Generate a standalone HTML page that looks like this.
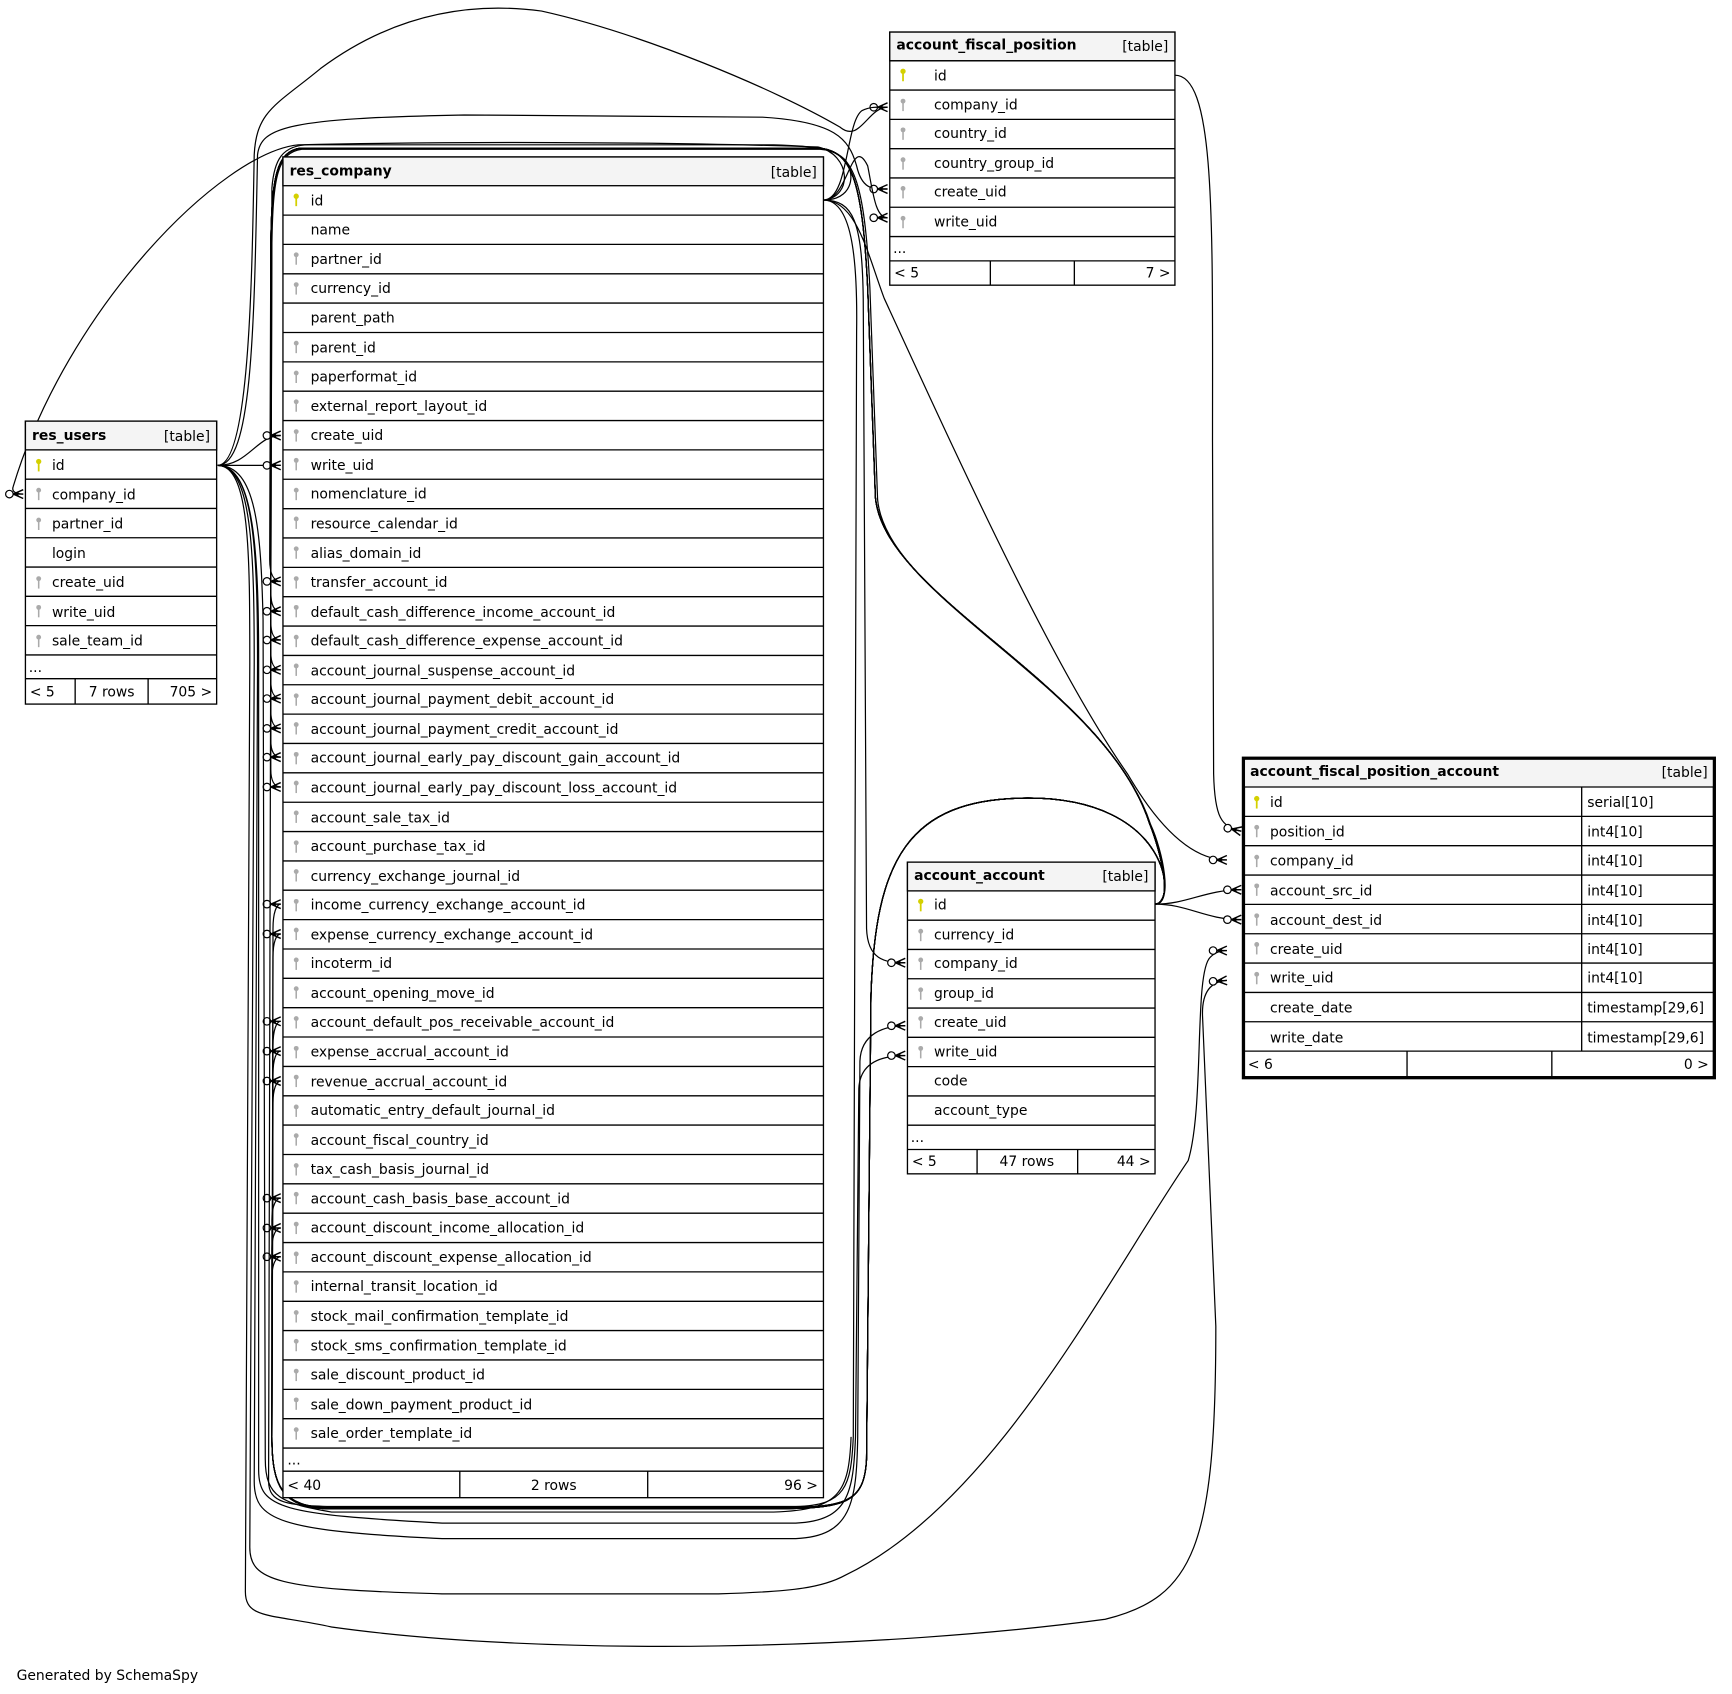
<!DOCTYPE html>
<html><head><meta charset="utf-8"><style>
html,body{margin:0;padding:0;background:#fff;}
svg{display:block;}
text{font-family:"DejaVu Sans","Liberation Sans",sans-serif;font-size:12.6px;fill:#000;}
.b{font-weight:bold;}
.e{fill:none;stroke:#000;stroke-width:1.1;}
.t{fill:#fff;stroke:#000;stroke-width:1.2;}
.h{fill:#f4f4f4;stroke:#000;stroke-width:1.2;}
.s{stroke:#000;stroke-width:1.2;fill:none;}
</style></head><body>
<svg width="1732" height="1694" viewBox="0 0 1567 1532.6" xmlns="http://www.w3.org/2000/svg">
<defs>
<marker id="m" markerUnits="userSpaceOnUse" markerWidth="30" markerHeight="20" refX="0" refY="0" orient="auto" overflow="visible" viewBox="-20 -10 30 20">
<path d="M-9,0 L0,-4 M-9,0 L0,0 M-9,0 L0,4" stroke="#000" stroke-width="1.3" fill="none"/>
<path d="M-9,0 L-3,-3 L-5,0 L-3,3 Z" fill="#000"/>
<circle cx="-12.5" cy="0" r="3.4" fill="#fff" stroke="#000" stroke-width="1.1"/>
</marker>
<g id="kg"><circle cx="0" cy="-3.5" r="2.2" fill="#aaa"/><rect x="-0.7" y="-3" width="1.4" height="8.5" fill="#aaa"/></g>
<g id="ky"><circle cx="0" cy="-3.5" r="2.4" fill="#d4d000"/><rect x="-0.8" y="-3" width="1.6" height="8.5" fill="#d4d000"/></g>
</defs>

<g class="e">
<path d="M197,421 C226,421 228,250 230,140 C232,100 250,95 290,62 C360,10 430,2 490,10 C580,30 700,80 760,115 C778,130 785,97 803,97" marker-end="url(#m)"/>
<path d="M197,421 C228,421 230,300 233,140 C236,115 260,107 420,104 L690,106 C755,110 768,125 775,150 C780,172 790,171 803,171" marker-end="url(#m)"/>
<path d="M745,181 C768,181 770,120 785,150 C790,175 792,197 803,197" marker-end="url(#m)"/>
<path d="M745,181 C768,181 765,110 780,100 C788,96 795,97 803,97" />
<path d="M745,181 C772,178 770,140 740,133 C600,128 400,128 270,131 C200,138 60,280 12,440 C10,445 15,447 21,447" marker-end="url(#m)"/>
<path d="M197,421 C225,421 232,394 254,394" marker-end="url(#m)"/>
<path d="M197,421 L254,421" marker-end="url(#m)"/>
<path d="M745,181 C772,181 780,200 781,270 L784,840 C785,868 800,871 819,871" marker-end="url(#m)"/>
<path d="M745,181 C775,181 785,230 800,270 C860,400 950,600 1020,700 C1055,760 1085,778 1110,778" marker-end="url(#m)"/>
<path d="M1063,68 C1100,68 1097,200 1097,400 L1098,700 C1099,740 1105,748 1123,752" marker-end="url(#m)"/>
<path d="M1045,818 C1075,818 1090,805 1123,805" marker-end="url(#m)"/>
<path d="M1045,818 C1075,818 1090,832 1123,832" marker-end="url(#m)"/>
<path d="M1045,818 C1062,818 1050,770 1040,745 C1000,620 800,540 792,450 L785,260 C780,160 770,136 740,134 L272,134 C250,137 246,160 245,220 L244,506 C244,520 248,526 254,526" marker-end="url(#m)"/>
<path d="M1045,818 C1062,818 1052,770 1041,746 C1001,622 802,542 794,452 L787,260 C782,162 772,137 742,135 L273,135 C251,138 247,160 246,220 L245,535 C245,548 248,553 254,553" marker-end="url(#m)"/>
<path d="M1045,818 C1062,818 1050,770 1040,745 C1000,620 800,540 792,450 L785,260 C780,160 770,136 740,134 L272,134 C250,137 246,160 245,220 L245,562 C245,574 248,579 254,579" marker-end="url(#m)"/>
<path d="M1045,818 C1062,818 1050,770 1040,745 C1000,620 800,540 792,450 L785,260 C780,160 770,136 740,134 L272,134 C250,137 246,160 245,220 L245,590 C245,600 248,606 254,606" marker-end="url(#m)"/>
<path d="M1045,818 C1062,818 1050,770 1040,745 C1000,620 800,540 792,450 L785,260 C780,160 770,136 740,134 L272,134 C250,137 246,160 245,220 L245,616 C245,626 248,632 254,632" marker-end="url(#m)"/>
<path d="M1045,818 C1062,818 1050,770 1040,745 C1000,620 800,540 792,450 L785,260 C780,160 770,136 740,134 L272,134 C250,137 246,160 245,220 L245,643 C245,653 248,659 254,659" marker-end="url(#m)"/>
<path d="M1045,818 C1062,818 1050,770 1040,745 C1000,620 800,540 792,450 L785,260 C780,160 770,136 740,134 L272,134 C250,137 246,160 245,220 L245,670 C245,680 248,685 254,685" marker-end="url(#m)"/>
<path d="M1045,818 C1062,818 1050,770 1040,745 C1000,620 800,540 792,450 L785,260 C780,160 770,136 740,134 L272,134 C250,137 246,160 245,220 L245,696 C245,706 248,712 254,712" marker-end="url(#m)"/>
<path d="M1045,818 C1065,818 1060,722 930,722 C820,722 792,780 788,900 L784,1320 C782,1360 765,1365 700,1365 L300,1365 C255,1365 246,1345 246,1300 L247,840 C247,826 250,818 254,818" marker-end="url(#m)"/>
<path d="M1045,818 C1065,818 1060,722 930,722 C820,722 792,780 788,900 L784,1320 C782,1360 765,1365 700,1365 L300,1365 C255,1365 246,1345 246,1300 L247,866 C247,852 250,845 254,845" marker-end="url(#m)"/>
<path d="M1045,818 C1065,818 1060,722 930,722 C820,722 792,780 788,900 L784,1320 C782,1360 765,1364 700,1364 L300,1364 C255,1364 246,1345 246,1300 L247,946 C247,932 250,924 254,924" marker-end="url(#m)"/>
<path d="M1045,818 C1065,818 1060,722 930,722 C820,722 792,780 788,900 L784,1320 C782,1360 765,1364 700,1364 L300,1364 C255,1364 246,1345 246,1300 L247,972 C247,958 250,951 254,951" marker-end="url(#m)"/>
<path d="M1045,818 C1065,818 1060,722 930,722 C820,722 792,780 788,900 L784,1320 C782,1360 765,1364 700,1364 L300,1364 C255,1364 246,1345 246,1300 L247,998 C247,985 250,978 254,978" marker-end="url(#m)"/>
<path d="M1045,818 C1065,818 1060,722 930,722 C820,722 792,780 788,900 L784,1320 C782,1360 765,1365 700,1365 L300,1365 C255,1365 246,1345 246,1300 L246,1104 C246,1090 250,1084 254,1084" marker-end="url(#m)"/>
<path d="M1045,818 C1065,818 1060,722 930,722 C820,722 792,780 788,900 L784,1320 C782,1360 765,1365 700,1365 L300,1365 C255,1365 246,1345 246,1300 L246,1130 C246,1117 250,1111 254,1111" marker-end="url(#m)"/>
<path d="M1045,818 C1065,818 1060,722 930,722 C820,722 792,780 788,900 L784,1320 C782,1360 765,1365 700,1365 L300,1365 C255,1365 246,1345 246,1300 L246,1156 C246,1143 250,1137 254,1137" marker-end="url(#m)"/>
<path d="M197,421 C232,421 236,480 238,560 L240,1320 C240,1355 255,1360 300,1368 L700,1368 C760,1366 768,1350 770,1300"/>
<path d="M197,421 C230,421 233,500 233,600 L230,1340 C230,1375 250,1385 400,1392 L720,1392 C770,1390 775,1360 776,1300 L778,960 C779,935 800,928 819,928" marker-end="url(#m)"/>
<path d="M197,421 C230,421 234,500 234,600 L234,1330 C234,1365 255,1370 400,1378 L720,1378 C768,1376 772,1350 774,1300 L777,985 C778,960 800,955 819,955" marker-end="url(#m)"/>
<path d="M197,421 C228,421 230,500 230,600 L226,1400 C226,1430 250,1438 400,1442 L650,1442 C720,1440 745,1436 765,1425 C900,1360 1000,1160 1075,1050 C1090,1000 1080,880 1095,866 C1100,861 1105,860 1110,860" marker-end="url(#m)"/>
<path d="M197,421 C226,421 226,500 226,600 L222,1440 C222,1465 245,1460 300,1472 C500,1500 800,1492 1000,1465 C1080,1445 1100,1400 1100,1200 L1088,920 C1087,898 1095,888 1110,887" marker-end="url(#m)"/>
<path d="M745,181 C770,181 775,160 765,145 C755,135 740,132 700,131 L280,131 C255,131 248,145 246,170 L243,1340 C243,1360 260,1362 300,1363 L720,1363 C765,1362 770,1345 772,1300 L775,300 C776,230 770,181 745,181"/>
</g>

<rect class="t" x="256" y="142" width="489" height="1213"/>
<rect class="h" x="256" y="142" width="489" height="26"/>
<text class="b" x="262" y="159">res_company</text><text x="739" y="160" text-anchor="end">[table]</text>
<path class="s" d="M256,194.6h489M256,221.1h489M256,247.7h489M256,274.2h489M256,300.8h489M256,327.4h489M256,353.9h489M256,380.5h489M256,407h489M256,433.6h489M256,460.2h489M256,486.7h489M256,513.3h489M256,539.8h489M256,566.4h489M256,593h489M256,619.5h489M256,646.1h489M256,672.6h489M256,699.2h489M256,725.8h489M256,752.3h489M256,778.9h489M256,805.4h489M256,832h489M256,858.6h489M256,885.1h489M256,911.7h489M256,938.2h489M256,964.8h489M256,991.4h489M256,1017.9h489M256,1044.5h489M256,1071h489M256,1097.6h489M256,1124.2h489M256,1150.7h489M256,1177.3h489M256,1203.8h489M256,1230.4h489M256,1257h489M256,1283.5h489M256,1310.1h489M256,1331h489M416,1331v24M586,1331v24"/>
<use href="#ky" x="268" y="181"/>
<g>
<use href="#kg" x="268" y="234"/><use href="#kg" x="268" y="261"/><use href="#kg" x="268" y="314"/><use href="#kg" x="268" y="341"/><use href="#kg" x="268" y="367"/><use href="#kg" x="268" y="394"/><use href="#kg" x="268" y="420"/><use href="#kg" x="268" y="447"/><use href="#kg" x="268" y="473"/><use href="#kg" x="268" y="500"/><use href="#kg" x="268" y="527"/><use href="#kg" x="268" y="553"/><use href="#kg" x="268" y="580"/><use href="#kg" x="268" y="606"/><use href="#kg" x="268" y="633"/><use href="#kg" x="268" y="659"/><use href="#kg" x="268" y="686"/><use href="#kg" x="268" y="712"/><use href="#kg" x="268" y="739"/><use href="#kg" x="268" y="766"/><use href="#kg" x="268" y="792"/><use href="#kg" x="268" y="819"/><use href="#kg" x="268" y="845"/><use href="#kg" x="268" y="872"/><use href="#kg" x="268" y="898"/><use href="#kg" x="268" y="925"/><use href="#kg" x="268" y="952"/><use href="#kg" x="268" y="978"/><use href="#kg" x="268" y="1005"/><use href="#kg" x="268" y="1031"/><use href="#kg" x="268" y="1058"/><use href="#kg" x="268" y="1084"/><use href="#kg" x="268" y="1111"/><use href="#kg" x="268" y="1138"/><use href="#kg" x="268" y="1164"/><use href="#kg" x="268" y="1191"/><use href="#kg" x="268" y="1217"/><use href="#kg" x="268" y="1244"/><use href="#kg" x="268" y="1270"/><use href="#kg" x="268" y="1297"/>
</g>
<g>
<text x="281" y="186">id</text>
<text x="281" y="212">name</text>
<text x="281" y="239">partner_id</text>
<text x="281" y="265">currency_id</text>
<text x="281" y="292">parent_path</text>
<text x="281" y="319">parent_id</text>
<text x="281" y="345">paperformat_id</text>
<text x="281" y="372">external_report_layout_id</text>
<text x="281" y="398">create_uid</text>
<text x="281" y="425">write_uid</text>
<text x="281" y="451">nomenclature_id</text>
<text x="281" y="478">resource_calendar_id</text>
<text x="281" y="505">alias_domain_id</text>
<text x="281" y="531">transfer_account_id</text>
<text x="281" y="558">default_cash_difference_income_account_id</text>
<text x="281" y="584">default_cash_difference_expense_account_id</text>
<text x="281" y="611">account_journal_suspense_account_id</text>
<text x="281" y="637">account_journal_payment_debit_account_id</text>
<text x="281" y="664">account_journal_payment_credit_account_id</text>
<text x="281" y="690">account_journal_early_pay_discount_gain_account_id</text>
<text x="281" y="717">account_journal_early_pay_discount_loss_account_id</text>
<text x="281" y="744">account_sale_tax_id</text>
<text x="281" y="770">account_purchase_tax_id</text>
<text x="281" y="797">currency_exchange_journal_id</text>
<text x="281" y="823">income_currency_exchange_account_id</text>
<text x="281" y="850">expense_currency_exchange_account_id</text>
<text x="281" y="876">incoterm_id</text>
<text x="281" y="903">account_opening_move_id</text>
<text x="281" y="929">account_default_pos_receivable_account_id</text>
<text x="281" y="956">expense_accrual_account_id</text>
<text x="281" y="983">revenue_accrual_account_id</text>
<text x="281" y="1009">automatic_entry_default_journal_id</text>
<text x="281" y="1036">account_fiscal_country_id</text>
<text x="281" y="1062">tax_cash_basis_journal_id</text>
<text x="281" y="1089">account_cash_basis_base_account_id</text>
<text x="281" y="1115">account_discount_income_allocation_id</text>
<text x="281" y="1142">account_discount_expense_allocation_id</text>
<text x="281" y="1168">internal_transit_location_id</text>
<text x="281" y="1195">stock_mail_confirmation_template_id</text>
<text x="281" y="1222">stock_sms_confirmation_template_id</text>
<text x="281" y="1248">sale_discount_product_id</text>
<text x="281" y="1275">sale_down_payment_product_id</text>
<text x="281" y="1301">sale_order_template_id</text>
<text x="260" y="1325">...</text>
<text x="260" y="1348">&lt; 40</text>
<text x="501" y="1348" text-anchor="middle">2 rows</text>
<text x="740" y="1348" text-anchor="end">96 &gt;</text>
</g>

<rect class="t" x="23" y="381" width="173" height="256"/>
<rect class="h" x="23" y="381" width="173" height="26"/>
<text class="b" x="29" y="398">res_users</text><text x="190" y="399" text-anchor="end">[table]</text>
<path class="s" d="M23,433.5h173M23,460h173M23,486.5h173M23,513h173M23,539.5h173M23,566h173M23,592.5h173M23,614h173M68,614v23M134,614v23"/>
<use href="#ky" x="35" y="421"/><use href="#kg" x="35" y="447"/><use href="#kg" x="35" y="474"/><use href="#kg" x="35" y="527"/><use href="#kg" x="35" y="553"/><use href="#kg" x="35" y="580"/>
<text x="47" y="425">id</text>
<text x="47" y="452">company_id</text>
<text x="47" y="478">partner_id</text>
<text x="47" y="505">login</text>
<text x="47" y="531">create_uid</text>
<text x="47" y="558">write_uid</text>
<text x="47" y="584">sale_team_id</text>
<text x="26" y="608">...</text>
<text x="27" y="630">&lt; 5</text>
<text x="101" y="630" text-anchor="middle">7 rows</text>
<text x="192" y="630" text-anchor="end">705 &gt;</text>

<rect class="t" x="805" y="29" width="258" height="229"/>
<rect class="h" x="805" y="29" width="258" height="26"/>
<text class="b" x="811" y="45">account_fiscal_position</text><text x="1057" y="46" text-anchor="end">[table]</text>
<path class="s" d="M805,55h258M805,81.5h258M805,108h258M805,134.5h258M805,161h258M805,187.5h258M805,214h258M805,236h258M896,236v22M972,236v22"/>
<use href="#ky" x="817" y="68"/><use href="#kg" x="817" y="95"/><use href="#kg" x="817" y="121"/><use href="#kg" x="817" y="148"/><use href="#kg" x="817" y="174"/><use href="#kg" x="817" y="201"/>
<text x="845" y="73">id</text>
<text x="845" y="99">company_id</text>
<text x="845" y="125">country_id</text>
<text x="845" y="152">country_group_id</text>
<text x="845" y="178">create_uid</text>
<text x="845" y="205">write_uid</text>
<text x="808" y="229">...</text>
<text x="809" y="251">&lt; 5</text>
<text x="1059" y="251" text-anchor="end">7 &gt;</text>

<rect class="t" x="821" y="780" width="224" height="282"/>
<rect class="h" x="821" y="780" width="224" height="26"/>
<text class="b" x="827" y="796">account_account</text><text x="1039" y="797" text-anchor="end">[table]</text>
<path class="s" d="M821,832.5h224M821,859h224M821,885.5h224M821,912h224M821,938.5h224M821,965h224M821,991.5h224M821,1018h224M821,1040h224M884,1040v22M975,1040v22"/>
<use href="#ky" x="833" y="819"/><use href="#kg" x="833" y="846"/><use href="#kg" x="833" y="872"/><use href="#kg" x="833" y="899"/><use href="#kg" x="833" y="925"/><use href="#kg" x="833" y="952"/>
<text x="845" y="823">id</text>
<text x="845" y="850">currency_id</text>
<text x="845" y="876">company_id</text>
<text x="845" y="903">group_id</text>
<text x="845" y="929">create_uid</text>
<text x="845" y="956">write_uid</text>
<text x="845" y="982">code</text>
<text x="845" y="1009">account_type</text>
<text x="824" y="1033">...</text>
<text x="825" y="1055">&lt; 5</text>
<text x="929" y="1055" text-anchor="middle">47 rows</text>
<text x="1041" y="1055" text-anchor="end">44 &gt;</text>

<rect class="t" x="1125" y="686" width="426" height="289" style="stroke-width:3"/>
<rect x="1126.5" y="687.5" width="423" height="24.5" fill="#f4f4f4"/>
<path class="s" d="M1125,712h426"/>
<text class="b" x="1131" y="702">account_fiscal_position_account</text><text x="1545" y="703" text-anchor="end">[table]</text>
<path class="s" d="M1125,738.6h426M1125,765.1h426M1125,791.7h426M1125,818.2h426M1125,844.8h426M1125,871.3h426M1125,897.9h426M1125,924.4h426M1125,951h426M1431,712v239M1273,951v24M1404,951v24"/>
<use href="#ky" x="1137" y="726"/><use href="#kg" x="1137" y="752"/><use href="#kg" x="1137" y="779"/><use href="#kg" x="1137" y="805"/><use href="#kg" x="1137" y="832"/><use href="#kg" x="1137" y="858"/><use href="#kg" x="1137" y="885"/>
<text x="1149" y="730">id</text><text x="1436" y="730">serial[10]</text>
<text x="1149" y="757">position_id</text><text x="1436" y="757">int4[10]</text>
<text x="1149" y="783">company_id</text><text x="1436" y="783">int4[10]</text>
<text x="1149" y="810">account_src_id</text><text x="1436" y="810">int4[10]</text>
<text x="1149" y="837">account_dest_id</text><text x="1436" y="837">int4[10]</text>
<text x="1149" y="863">create_uid</text><text x="1436" y="863">int4[10]</text>
<text x="1149" y="889">write_uid</text><text x="1436" y="889">int4[10]</text>
<text x="1149" y="916">create_date</text><text x="1436" y="916">timestamp[29,6]</text>
<text x="1149" y="943">write_date</text><text x="1436" y="943">timestamp[29,6]</text>
<text x="1129" y="967">&lt; 6</text>
<text x="1546" y="967" text-anchor="end">0 &gt;</text>

<text x="15" y="1520">Generated by SchemaSpy</text>
</svg>
</body></html>
